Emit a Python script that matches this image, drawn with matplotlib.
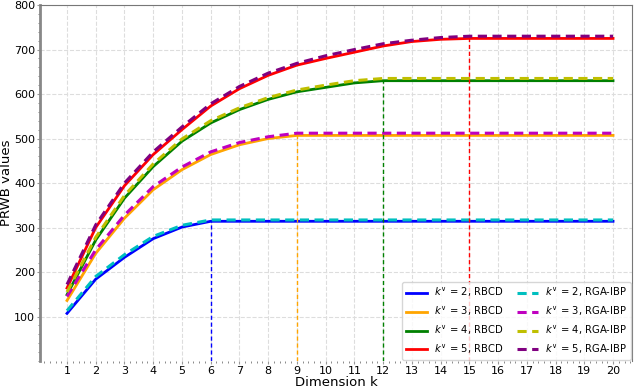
import numpy as np
import matplotlib
matplotlib.use("Agg")
import matplotlib.pyplot as plt
from matplotlib.ticker import AutoMinorLocator

# dimension k
k = list(range(1, 21))

# PRWB values
rbcd_2 = [107, 184, 233, 275, 301, 314, 314, 314, 314, 314, 314, 314, 314, 314, 314, 314, 314, 314, 314, 314]
rbcd_3 = [136, 242, 321, 385, 430, 464, 486, 500, 507, 507, 507, 507, 507, 507, 507, 507, 507, 507, 507, 507]
rbcd_4 = [149, 272, 366, 437, 494, 535, 565, 588, 605, 615, 625, 630, 630, 630, 630, 630, 630, 630, 630, 630]
rbcd_5 = [164, 300, 394, 464, 520, 573, 612, 642, 665, 680, 694, 708, 718, 723, 725, 725, 725, 725, 725, 725]

rga_2 = [113, 190, 239, 280, 305, 317, 317, 317, 317, 317, 317, 317, 317, 317, 317, 317, 317, 317, 317, 317]
rga_3 = [145, 250, 328, 392, 436, 470, 491, 504, 512, 512, 512, 512, 512, 512, 512, 512, 512, 512, 512, 512]
rga_4 = [155, 278, 372, 443, 499, 540, 569, 592, 609, 620, 630, 635, 635, 635, 635, 635, 635, 635, 635, 635]
rga_5 = [172, 306, 400, 470, 526, 578, 617, 647, 669, 686, 700, 713, 721, 727, 730, 730, 730, 730, 730, 730]

k_star = [2, 3, 4, 5]
k_opt = [6, 9, 12, 15]   # where RBCD levels off
rbcd_colors = ['blue', 'orange', 'green', 'red']
rga_colors = ['c', 'm', 'y', 'purple']


def main():
    fig = plt.figure(figsize=(6.4, 3.89), dpi=100)
    ax = fig.add_axes([0.0625, 0.072, 0.925, 0.915])

    rbcd = [rbcd_2, rbcd_3, rbcd_4, rbcd_5]
    rga = [rga_2, rga_3, rga_4, rga_5]

    handles = []
    for i in range(4):
        h, = ax.plot(k, rbcd[i], color=rbcd_colors[i], lw=2,
                     label=r'$k^{\vee}$ = %d, RBCD' % k_star[i])
        handles.append(h)
    for i in range(4):
        h, = ax.plot(k, rga[i], color=rga_colors[i], lw=2.2, ls=(0, (3, 1.8)),
                     label=r'$k^{\vee}$ = %d, RGA-IBP' % k_star[i])
        handles.append(h)

    # vertical markers at the point where each curve flattens
    for i in range(4):
        ax.vlines(k_opt[i], 0, rbcd[i][k_opt[i] - 1], colors=rbcd_colors[i],
                  linestyles=(0, (3, 2)), lw=1.0)

    ax.set_xlim(0.06, 20.66)
    ax.set_ylim(0, 800)
    ax.set_xticks(k)
    ax.set_yticks(range(100, 801, 100))
    ax.xaxis.set_minor_locator(AutoMinorLocator(5))
    ax.yaxis.set_minor_locator(AutoMinorLocator(5))
    ax.tick_params(axis='both', which='major', labelsize=8, length=2, pad=1.5, color='#999999')
    ax.tick_params(axis='both', which='minor', length=1.5, color='#777777')
    ax.grid(True, which='major', ls='--', color='#dddddd', lw=0.8)

    for s in ['top', 'right']:
        ax.spines[s].set_color('#777777')
    ax.spines['left'].set_color('#888888')
    ax.spines['left'].set_linewidth(2)
    ax.spines['bottom'].set_visible(False)

    ax.set_xlabel('Dimension k', fontsize=9.5, labelpad=0)
    ax.set_ylabel('PRWB values', fontsize=9.5, labelpad=1)

    ax.legend(handles=handles, ncol=2, loc='lower right', fontsize=7.2,
              handlelength=2.1, columnspacing=1.4, borderaxespad=0.1,
              labelspacing=0.55, handletextpad=0.7)

    fig.savefig('out.png', dpi=100)


if __name__ == '__main__':
    main()
